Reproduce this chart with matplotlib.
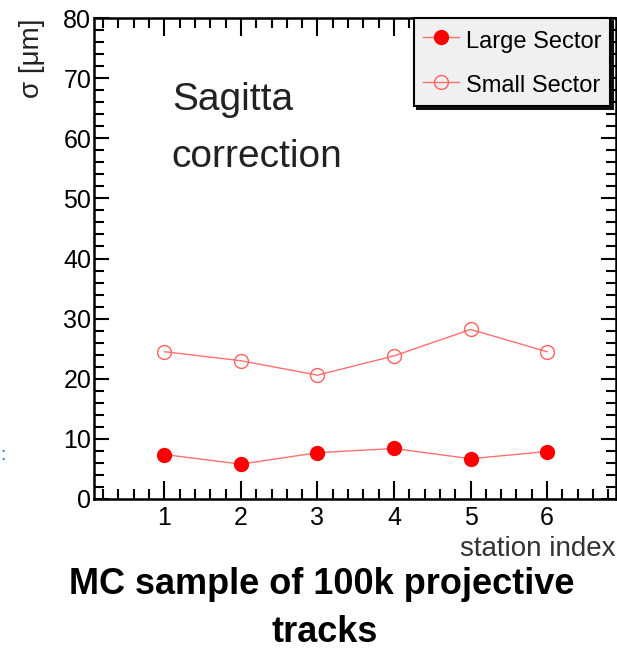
import numpy as np
import matplotlib.pyplot as plt
from matplotlib.ticker import MultipleLocator

# values
station = [1, 2, 3, 4, 5, 6]
large_sector = [7.4, 5.8, 7.7, 8.4, 6.7, 7.9]
small_sector = [24.5, 23.0, 20.6, 23.8, 28.2, 24.5]

plt.rcParams["font.family"] = ["Liberation Sans", "DejaVu Sans"]

fig = plt.figure(figsize=(6.17, 6.5), dpi=100)
ax = fig.add_axes([94 / 617, 1 - 499 / 650, 522 / 617, 481 / 650])

# data series
ax.plot(station, large_sector, color="#ff7070", lw=1.0, marker="o", ms=10,
        mfc="red", mec="red", label="Large Sector")
ax.plot(station, small_sector, color="#ff7070", lw=1.0, marker="o", ms=10,
        mfc="none", mec="#ff6060", mew=1.0, label="Small Sector")

ax.set_xlim(0.08, 6.9)
ax.set_ylim(0, 80)
ax.xaxis.set_major_locator(MultipleLocator(1))
ax.xaxis.set_minor_locator(MultipleLocator(0.2))
ax.yaxis.set_major_locator(MultipleLocator(10))
ax.yaxis.set_minor_locator(MultipleLocator(2))
ax.set_xticks(station)

ax.tick_params(which="both", direction="in", top=True, right=True, width=1.5,
               labelsize=18, colors="black")
ax.tick_params(axis="x", which="major", length=13, pad=5)
ax.tick_params(axis="x", which="minor", length=7)
ax.tick_params(axis="y", which="major", length=11, pad=2)
ax.tick_params(axis="y", which="minor", length=7)
for s in ax.spines.values():
    s.set_linewidth(1.8)

ax.set_ylabel("σ [μm]", fontsize=20, loc="top", labelpad=13, color="#222222")
ax.set_xlabel("station index", fontsize=20, loc="right", labelpad=4, color="#333333")

# annotation inside the frame
ax.text(0.149, 0.809, "Sagitta", transform=ax.transAxes, fontsize=28,
        va="baseline", ha="left", color="#222222")
ax.text(0.149, 0.690, "correction", transform=ax.transAxes, fontsize=28,
        va="baseline", ha="left", color="#222222")

leg = ax.legend(loc="upper right", bbox_to_anchor=(0.989, 1.0), borderaxespad=0,
                fancybox=False, shadow={"color": "black", "alpha": 0.9},
                edgecolor="black", facecolor="#f0f0f0", framealpha=1,
                fontsize=17, handlelength=1.5, handletextpad=0.3,
                handleheight=1.3, labelspacing=0.8, borderpad=0.38)
leg.get_frame().set_linewidth(1.5)

fig.text(0.522, 1 - 585 / 650, "MC sample of 100k projective", ha="center",
         va="center", fontsize=26, fontweight="bold")
fig.text(0.527, 1 - 632 / 650, "tracks", ha="center",
         va="center", fontsize=26, fontweight="bold")
fig.text(0.0, 0.30, ":", color="#1a6fd8", fontsize=14, ha="left", va="center")

fig.savefig("out.png", dpi=100)
